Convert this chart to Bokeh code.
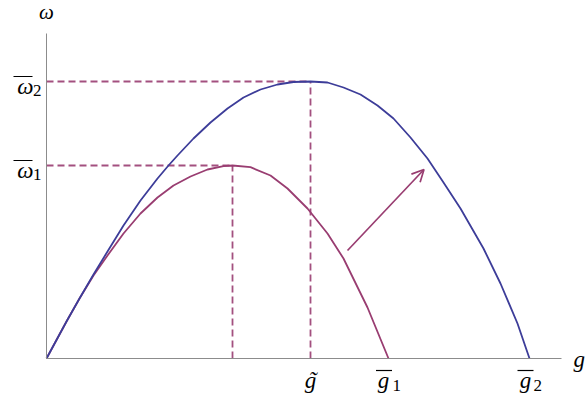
from bokeh.plotting import figure
from bokeh.models import LinearAxis, FixedTicker, Range1d, Arrow, OpenHead, ColumnDataSource
from bokeh.core.properties import value
from bokeh.embed import file_html
from bokeh.resources import INLINE

# ---- data ----
blue_g = [0, 20, 33, 47, 61, 77, 94, 111, 122, 131, 147, 164, 181, 197, 214, 231, 247, 264,
          281, 297, 314, 331, 347, 364, 381, 397, 414, 437, 454, 471, 483]
blue_w = [0, 37, 60, 84, 107, 133, 158, 180, 193, 203, 220, 236, 250, 261, 269, 274, 276.5, 277,
          276, 271, 264, 253, 240, 221, 200, 176, 150, 110, 75, 35, 0]
red_g = [0, 20, 33, 47, 61, 77, 94, 111, 127, 144, 161, 177, 186, 204, 224, 241, 261, 281, 297, 321, 342]
red_w = [0, 37, 60, 83, 103, 125, 145, 161, 173, 182, 189, 192.3, 193, 191.3, 183, 170, 150, 125, 100, 51, 0]

g_hat1 = 186
g_tilde = 264
g_bar1 = 342
g_bar2 = 483
w_bar1 = 193
w_bar2 = 277
g_axis_end = 515
w_axis_end = 325
arrow_from = (301, 108)
arrow_to = (377.5, 189)

y_tick_pos = [w_bar1, w_bar2]
y_tick_main = ["\u03c9", "\u03c9"]
y_tick_sub = ["1", "2"]
x_tick_pos = [g_tilde, g_bar1, g_bar2]
x_tick_main = ["g", "g", "g"]
x_tick_sub = ["", "1", "2"]

BLUE = "#3d3d99"
RED = "#993d71"
AXIS = "#8c8c8c"
SERIF = "Liberation Serif"

p = figure(width=585, height=398, x_range=Range1d(-46, 539), y_range=Range1d(-40, 358),
           output_backend="svg", toolbar_location=None, min_border=0,
           x_axis_type=None, y_axis_type=None)
p.outline_line_color = None


def make_axis(bounds):
    return LinearAxis(fixed_location=0, bounds=bounds, ticker=FixedTicker(ticks=[]),
                      major_label_text_font_size="0px", major_tick_line_color=None,
                      minor_tick_line_color=None, axis_line_color=AXIS, axis_line_width=1,
                      major_label_standoff=0, major_tick_in=0, major_tick_out=0)


p.add_layout(make_axis((0, w_axis_end)), "left")
p.add_layout(make_axis((0, g_axis_end)), "below")

# dashed guides
p.segment(x0=[0, g_hat1, 0, g_tilde], y0=[w_bar1, 0, w_bar2, 0],
          x1=[g_hat1, g_hat1, g_tilde, g_tilde], y1=[w_bar1, w_bar1, w_bar2, w_bar2],
          line_color=RED, line_width=1.8, line_dash="7 4", line_alpha=0.9)

# curves
p.line(red_g, red_w, line_color=RED, line_width=1.8, line_join="round")
p.line(blue_g, blue_w, line_color=BLUE, line_width=1.8, line_join="round")

# arrow
p.add_layout(Arrow(x_start=arrow_from[0], y_start=arrow_from[1], x_end=arrow_to[0], y_end=arrow_to[1],
                   line_color=RED, line_width=1.7,
                   end=OpenHead(size=12, line_color=RED, line_width=1.7)))

# ---- y tick labels (omega-bar with subscript) ----
ys = ColumnDataSource(dict(x=[0] * len(y_tick_pos), y=y_tick_pos, t=y_tick_main, s=y_tick_sub))
p.text(x="x", y="y", text="t", source=ys, text_font=value(SERIF), text_font_style="italic",
       text_font_size="23px", text_align="right", text_baseline="alphabetic",
       x_offset=-13, y_offset=5, text_color="black")
p.text(x="x", y="y", text="s", source=ys, text_font=value(SERIF),
       text_font_size="17px", text_align="right", text_baseline="alphabetic",
       x_offset=-5, y_offset=9, text_color="black")
p.scatter(x=[-23.5] * len(y_tick_pos), y=[v + 5 for v in y_tick_pos], marker="dash", size=19,
          line_color="black", line_width=1.2)

# ---- x tick labels ----
xs = ColumnDataSource(dict(x=x_tick_pos, y=[0] * len(x_tick_pos), t=x_tick_main, s=x_tick_sub,
                           dx=[0, -5, -4]))
p.text(x="x", y="y", text="t", source=xs, text_font=value(SERIF), text_font_style="italic",
       text_font_size="23px", text_align="center", text_baseline="alphabetic",
       x_offset="dx", y_offset=22, text_color="black")
p.text(x="x", y="y", text="s", source=xs, text_font=value(SERIF),
       text_font_size="17px", text_align="left", text_baseline="alphabetic",
       x_offset=4, y_offset=27, text_color="black")
# tilde over g~ and bars over g-bar
p.text(x=[g_tilde], y=[0], text=["\u02dc"], text_font=value(SERIF), text_font_style="italic",
       text_font_size="23px", text_align="center", text_baseline="alphabetic",
       x_offset=2, y_offset=22, text_color="black")
p.scatter(x=[g_bar1 - 4.5, g_bar2 - 4], y=[-12, -12], marker="dash", size=16,
          line_color="black", line_width=1.2)

# axis names
p.text(x=[0], y=[w_axis_end], text=["\u03c9"], text_font=value(SERIF), text_font_style="italic",
       text_font_size="21px", text_align="center", text_baseline="alphabetic",
       y_offset=-22, text_color="black")
p.text(x=[g_axis_end], y=[0], text=["g"], text_font=value(SERIF), text_font_style="italic",
       text_font_size="23px", text_align="left", text_baseline="alphabetic",
       x_offset=12, y_offset=1, text_color="black")

open("out.html", "w").write(file_html(p, INLINE))
